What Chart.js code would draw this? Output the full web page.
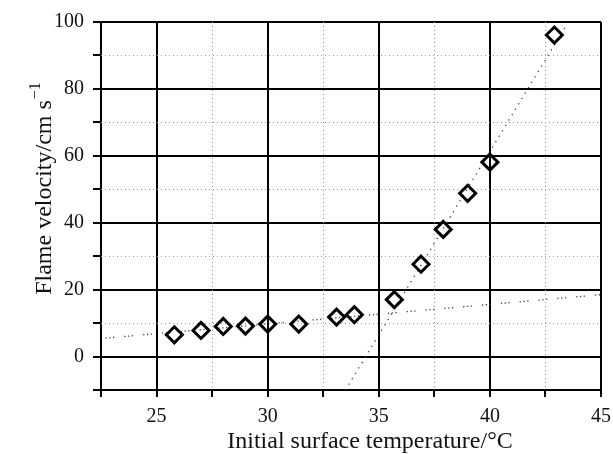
<!DOCTYPE html>
<html>
<head>
<meta charset="utf-8">
<script src="https://cdn.jsdelivr.net/npm/chart.js@4/dist/chart.umd.min.js"></script>
<style>
  html, body { margin: 0; padding: 0; background: #fff; }
  #wrap { width: 613px; height: 454px; }
</style>
</head>
<body>
<div id="wrap"><canvas id="flameChart"></canvas></div>
<script>
// measured points: initial surface temperature (°C) vs flame velocity (cm/s)
const temps = [25.8, 27.0, 28.0, 29.0, 30.0, 31.4, 33.1, 33.9, 35.7, 36.9, 37.9, 39.0, 40.0, 42.9];
const velocities = [6.5, 7.8, 9.0, 9.1, 9.7, 9.7, 11.8, 12.5, 17.0, 27.6, 38.0, 48.8, 58.1, 96.1];

// the two dotted fit lines (end points)
const fitLowX = [22.7, 45];
const fitLowY = [5.5, 18.5];
const fitHighX = [33.5, 43.4];
const fitHighY = [-10, 98.6];

const xLabelTicks = [25, 30, 35, 40, 45];
const yLabelTicks = [0, 20, 40, 60, 80, 100];

const SERIF = '"Liberation Serif", "Times New Roman", serif';

function toPoints(xs, ys) {
    return xs.map((x, i) => ({ x: x, y: ys[i] }));
}

const isMajorX = v => xLabelTicks.includes(v);
const isMajorY = v => yLabelTicks.includes(v);

// dotted minor grid lines (between the solid ones)
const minorGrid = {
    id: 'minorGrid',
    beforeDatasetsDraw(chart) {
        const { ctx, chartArea, scales } = chart;
        ctx.save();
        ctx.strokeStyle = '#9a9a9a';
        ctx.lineWidth = 1;
        ctx.setLineDash([1, 3]);
        scales.x.ticks.forEach(t => {
            if (isMajorX(t.value) || t.value === scales.x.min) return;
            const px = Math.round(scales.x.getPixelForValue(t.value)) + 0.5;
            ctx.beginPath();
            ctx.moveTo(px, chartArea.top);
            ctx.lineTo(px, chartArea.bottom);
            ctx.stroke();
        });
        scales.y.ticks.forEach(t => {
            if (isMajorY(t.value) || t.value === scales.y.min) return;
            const py = Math.round(scales.y.getPixelForValue(t.value)) + 0.5;
            ctx.beginPath();
            ctx.moveTo(chartArea.left, py);
            ctx.lineTo(chartArea.right, py);
            ctx.stroke();
        });
        ctx.restore();
    }
};

// axis titles (y one has a superscript unit)
const axisTitles = {
    id: 'axisTitles',
    afterDraw(chart) {
        const { ctx, chartArea } = chart;
        ctx.save();
        ctx.fillStyle = '#111';
        ctx.textBaseline = 'alphabetic';

        // x title
        ctx.font = '24px ' + SERIF;
        ctx.textAlign = 'center';
        ctx.fillText('Initial surface temperature/°C', (chartArea.left + chartArea.right) / 2 + 19, chartArea.bottom + 58);

        // y title
        ctx.textAlign = 'left';
        const main = 'Flame velocity/cm s';
        const sup = '\u22121';
        const w1 = ctx.measureText(main).width;
        ctx.font = '16px ' + SERIF;
        const w2 = ctx.measureText(sup).width;
        const cy = (chartArea.top + chartArea.bottom) / 2 - 17;
        ctx.translate(51, cy);
        ctx.rotate(-Math.PI / 2);
        const start = -(w1 + w2) / 2;
        ctx.font = '24px ' + SERIF;
        ctx.fillText(main, start, 0);
        ctx.font = '16px ' + SERIF;
        ctx.fillText(sup, start + w1 + 1, -11);
        ctx.restore();
    }
};

new Chart(document.getElementById('flameChart'), {
    type: 'scatter',
    data: {
        datasets: [
            {
                label: 'fit low',
                data: toPoints(fitLowX, fitLowY),
                showLine: true,
                borderColor: '#444',
                borderWidth: 1.3,
                borderDash: [1.3, 2.5, 1.3, 2.5, 1.3, 10],
                pointRadius: 0,
                order: 2
            },
            {
                label: 'fit high',
                data: toPoints(fitHighX, fitHighY),
                showLine: true,
                borderColor: '#444',
                borderWidth: 1.3,
                borderDash: [1.3, 5],
                pointRadius: 0,
                order: 2
            },
            {
                label: 'Flame velocity',
                data: toPoints(temps, velocities),
                pointStyle: 'rectRot',
                pointRadius: 8,
                pointBorderWidth: 3,
                borderColor: '#000',
                backgroundColor: 'rgba(0,0,0,0)',
                order: 1
            }
        ]
    },
    options: {
        responsive: true,
        maintainAspectRatio: false,
        animation: false,
        layout: { padding: { top: 22, right: 12, left: 0, bottom: 0 } },
        plugins: {
            legend: { display: false },
            tooltip: { enabled: false }
        },
        scales: {
            x: {
                type: 'linear',
                min: 22.5,
                max: 45,
                afterFit: s => {
                    s.height = 64;
                    s.paddingLeft = 0;
                    s.paddingRight = 0;
                },
                ticks: {
                    stepSize: 2.5,
                    autoSkip: false,
                    maxRotation: 0,
                    padding: 8,
                    color: '#111',
                    font: { family: SERIF, size: 20 },
                    callback: v => isMajorX(v) ? v : ''
                },
                grid: {
                    color: c => (c.tick && isMajorX(c.tick.value)) ? '#000' : 'rgba(0,0,0,0)',
                    lineWidth: 2,
                    tickColor: '#000',
                    tickLength: 7,
                    tickWidth: 2
                },
                border: { color: '#000', width: 2 }
            },
            y: {
                type: 'linear',
                min: -10,
                max: 100,
                afterFit: s => {
                    s.width = 101;
                    s.paddingTop = 0;
                    s.paddingBottom = 0;
                },
                ticks: {
                    stepSize: 10,
                    autoSkip: false,
                    padding: 9,
                    color: '#111',
                    font: { family: SERIF, size: 20 },
                    callback: v => isMajorY(v) ? v : ''
                },
                grid: {
                    color: c => (c.tick && isMajorY(c.tick.value)) ? '#000' : 'rgba(0,0,0,0)',
                    lineWidth: 2,
                    tickColor: '#000',
                    tickLength: 8,
                    tickWidth: 2
                },
                border: { color: '#000', width: 2 }
            }
        }
    },
    plugins: [minorGrid, axisTitles]
});
</script>
</body>
</html>
